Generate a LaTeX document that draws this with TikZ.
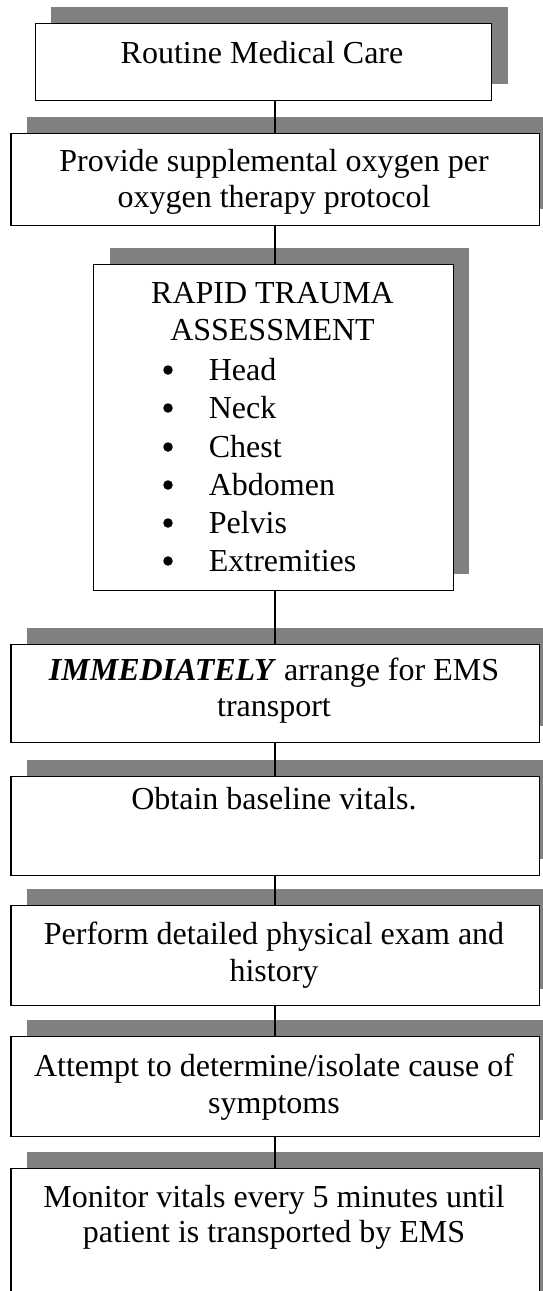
\documentclass[tikz,border=0pt]{standalone}
\usepackage{fontspec}
\setmainfont{Liberation Serif}
\usetikzlibrary{shadows}
\definecolor{shadowgray}{RGB}{128,128,128}
\tikzset{
  stepbox/.style={draw=black, line width=1.1pt, fill=white, anchor=north west, inner sep=0pt,
    drop shadow={shadow xshift=16.3pt, shadow yshift=16.3pt, fill=shadowgray, opacity=1}},
  txt/.style={font=\fontsize{32}{38.5}\selectfont, align=center, anchor=base, inner sep=0pt},
  bl/.style={font=\fontsize{32}{38.5}\selectfont, anchor=base west, inner sep=0pt},
  dot/.style={circle, fill=black, inner sep=0pt, minimum size=9.5pt},
  link/.style={draw=black, line width=1.1pt}
}
\begin{document}
\begin{tikzpicture}[x=1pt, y=-1pt]
\clip (0,0) rectangle (543,1291);
\fill[white] (0,0) rectangle (543,1291);
% boxes
\node[stepbox, minimum width=456.4pt, minimum height=77pt] (b1) at (34.6,22.5) {};
\node[stepbox, minimum width=528.6pt, minimum height=92pt] (b2) at (10.4,133) {};
\node[stepbox, minimum width=359.9pt, minimum height=326pt] (b3) at (92.7,264) {};
\node[stepbox, minimum width=528.6pt, minimum height=98pt] (b4) at (10.4,644) {};
\node[stepbox, minimum width=528.6pt, minimum height=99pt] (b5) at (10.4,776) {};
\node[stepbox, minimum width=528.6pt, minimum height=100pt] (b6) at (10.4,905) {};
\node[stepbox, minimum width=528.6pt, minimum height=100pt] (b7) at (10.4,1036) {};
\node[stepbox, minimum width=528.6pt, minimum height=150pt] (b8) at (10.4,1168) {};
% connectors
\draw[link] (b1.south -| 275,0) -- (b2.north -| 275,0);
\draw[link] (b2.south -| 275,0) -- (b3.north -| 275,0);
\draw[link] (b3.south -| 275,0) -- (b4.north -| 275,0);
\draw[link] (b4.south -| 275,0) -- (b5.north -| 275,0);
\draw[link] (b5.south -| 275,0) -- (b6.north -| 275,0);
\draw[link] (b6.south -| 275,0) -- (b7.north -| 275,0);
\draw[link] (b7.south -| 275,0) -- (b8.north -| 275,0);
% texts
\node[txt] (t1) at (262,63) {Routine Medical Care};
\node[txt] (t2a) at (274,171) {Provide supplemental oxygen per};
\node[txt] (t2b) at (274,207) {oxygen therapy protocol};
\node[txt] (t3a) at (272.5,303) {RAPID TRAUMA};
\node[txt] (t3b) at (272.5,340) {ASSESSMENT};
\foreach \y/\w [count=\i] in {380/Head, 418/Neck, 457/Chest, 495/Abdomen, 533/Pelvis, 571/Extremities}{
  \node[dot] (bu\i) at (168,\y-10) {};
  \node[bl] (it\i) at (208.6,\y) {\w};
}
\node[txt] (t4a) at (274,680) {\textbf{\textit{IMMEDIATELY}} arrange for EMS};
\node[txt] (t4b) at (274,716) {transport};
\node[txt] (t5) at (274,809) {Obtain baseline vitals.};
\node[txt] (t6a) at (274,944) {Perform detailed physical exam and};
\node[txt] (t6b) at (274,981) {history};
\node[txt] (t7a) at (274,1076) {Attempt to determine/isolate cause of};
\node[txt] (t7b) at (274,1113) {symptoms};
\node[txt] (t8a) at (274,1207) {Monitor vitals every 5 minutes until};
\node[txt] (t8b) at (274,1242) {patient is transported by EMS};
\end{tikzpicture}
\end{document}
